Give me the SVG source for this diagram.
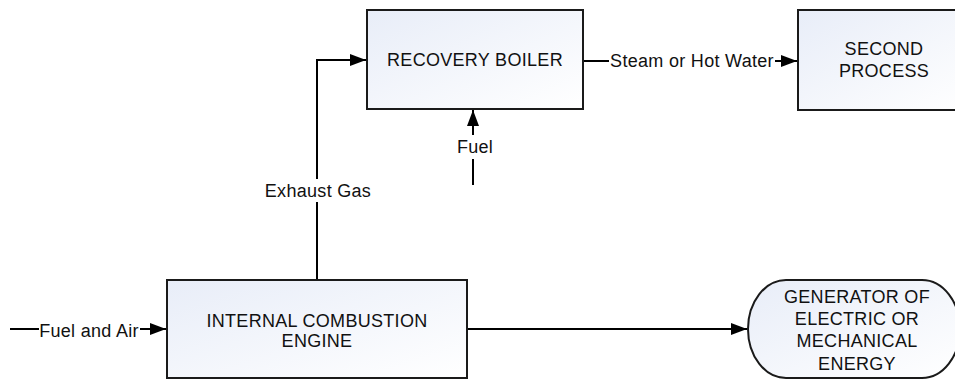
<svg xmlns="http://www.w3.org/2000/svg" width="955" height="383" viewBox="0 0 955 383">
<defs>
<linearGradient id="g" x1="0" y1="0" x2="1" y2="1">
<stop offset="0" stop-color="#e8edf8"/>
<stop offset="1" stop-color="#ffffff"/>
</linearGradient>
<marker id="ah" markerWidth="16" markerHeight="12" refX="16" refY="6" orient="auto" markerUnits="userSpaceOnUse">
<path d="M0,0 L16,6 L0,12 Z" fill="#000"/>
</marker>
<style>
.box{fill:url(#g);stroke:#1a1a1a;stroke-width:2}
.t{font-family:"Liberation Sans",Arial,sans-serif;font-size:18px;letter-spacing:0.3px;fill:#111;text-anchor:middle}
.c{fill:none;stroke:#000;stroke-width:2}
.bg{fill:#fff}
</style>
</defs>
<g id="connectors">
<path class="c" d="M317,280 V60 H366" marker-end="url(#ah)"/>
<rect class="bg" x="264" y="179" width="108" height="23"/>
<text class="t" x="318" y="197">Exhaust Gas</text>
<path class="c" d="M473,185 V110" marker-end="url(#ah)"/>
<rect class="bg" x="457" y="135" width="38" height="24"/>
<text class="t" x="475" y="153">Fuel</text>
<path class="c" d="M584,61 H797" marker-end="url(#ah)"/>
<rect class="bg" x="609" y="50" width="166" height="22"/>
<text class="t" x="692" y="67">Steam or Hot Water</text>
<path class="c" d="M10,329 H166" marker-end="url(#ah)"/>
<rect class="bg" x="39" y="318" width="101" height="22"/>
<text class="t" x="89" y="337">Fuel and Air</text>
<path class="c" d="M468,329 H747" marker-end="url(#ah)"/>
</g>
<g id="recovery-boiler">
<rect class="box" x="367" y="10" width="216" height="99"/>
<text class="t" x="475" y="66">RECOVERY BOILER</text>
</g>
<g id="second-process">
<rect class="box" x="798" y="10" width="172" height="100"/>
<text class="t" x="884" y="55">SECOND</text>
<text class="t" x="884" y="77">PROCESS</text>
</g>
<g id="engine">
<rect class="box" x="167" y="280" width="300" height="98"/>
<text class="t" x="317" y="327">INTERNAL COMBUSTION</text>
<text class="t" x="317" y="347">ENGINE</text>
</g>
<g id="generator">
<path class="box" d="M786,280 H922 A38,49 0 0 1 922,378 H786 A38,49 0 0 1 786,280 Z"/>
<text class="t" x="857" y="303">GENERATOR OF</text>
<text class="t" x="857" y="325">ELECTRIC OR</text>
<text class="t" x="857" y="347">MECHANICAL</text>
<text class="t" x="857" y="370">ENERGY</text>
</g>
</svg>
